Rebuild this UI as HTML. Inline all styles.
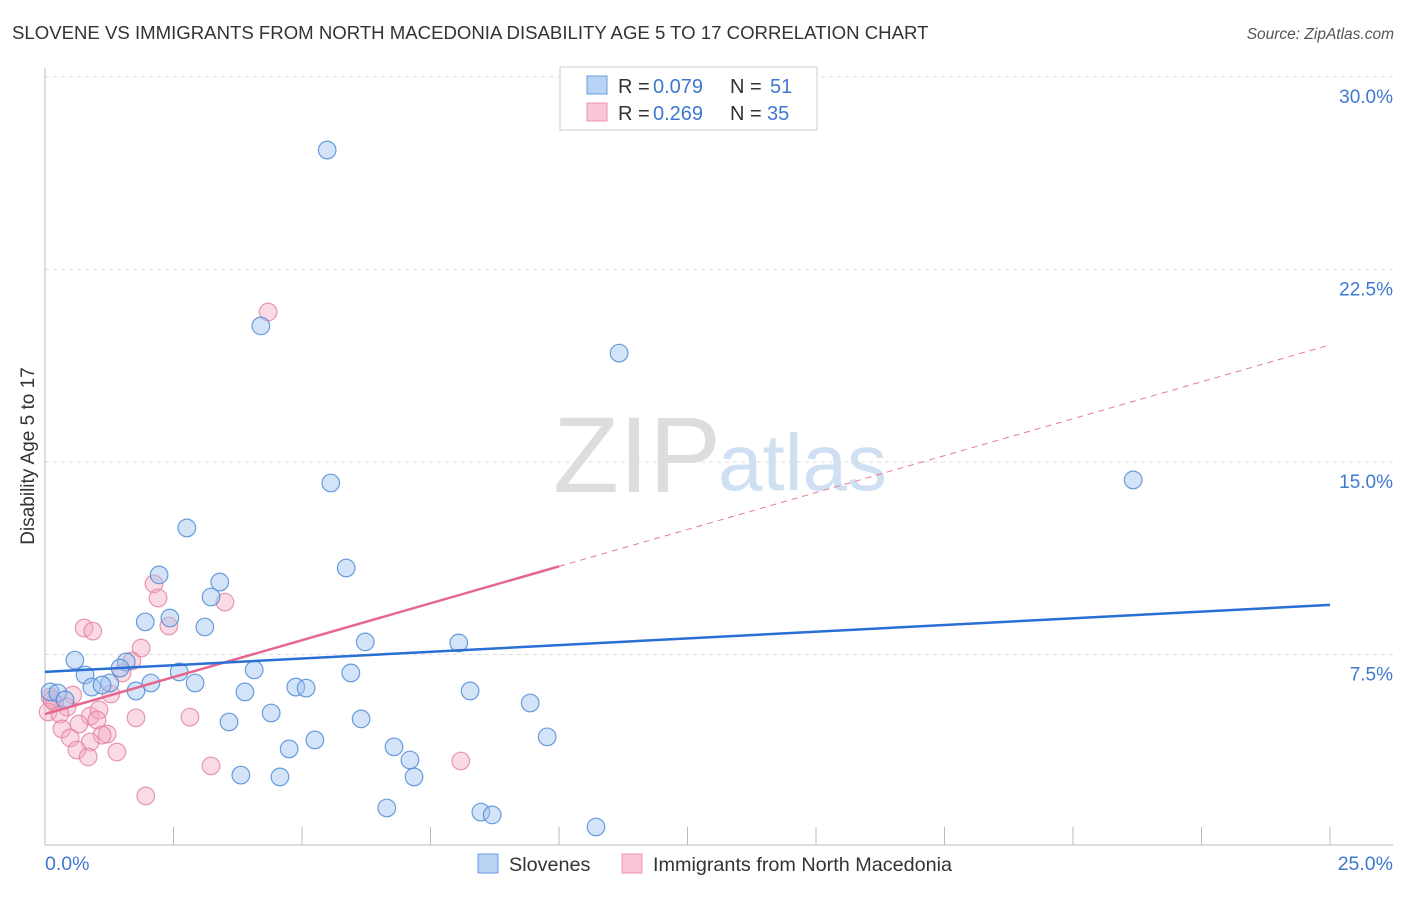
<!DOCTYPE html>
<html><head><meta charset="utf-8"><style>
body{margin:0;background:#fff;font-family:"Liberation Sans",sans-serif;}
svg text{font-family:"Liberation Sans",sans-serif;}
</style></head><body>
<svg id="chart" width="1406" height="892" xmlns="http://www.w3.org/2000/svg">
<text x="12" y="39" font-size="18.6" fill="#333">SLOVENE VS IMMIGRANTS FROM NORTH MACEDONIA DISABILITY AGE 5 TO 17 CORRELATION CHART</text>
<text x="1394" y="39" font-size="15.5" fill="#555" text-anchor="end" font-style="italic">Source: ZipAtlas.com</text>
<g>
<text x="553" y="492" font-size="108" fill="#ddd" font-family="Liberation Serif, serif">ZIP</text>
<text x="718" y="490" font-size="80" fill="#cfe0f3">atlas</text>
</g>
<g id="grid"></g>
<g id="axes"></g>
<text transform="translate(34,456) rotate(-90)" font-size="19" fill="#333" text-anchor="middle">Disability Age 5 to 17</text>
<g id="marks"></g>
<g>
<rect x="560" y="67" width="257" height="63" fill="#fff" stroke="#ccc"/>
<rect x="587" y="76" width="20" height="18" fill="#b8d3f3" stroke="#6b9ddf"/>
<rect x="587" y="103" width="20" height="18" fill="#f8c6d4" stroke="#e895ad"/>
<text x="618" y="93" font-size="20" fill="#333">R = </text>
<text x="653" y="93" font-size="20" fill="#3f78d0">0.079</text>
<text x="730" y="93" font-size="20" fill="#333">N = </text>
<text x="770" y="93" font-size="20" fill="#3f78d0">51</text>
<text x="618" y="120" font-size="20" fill="#333">R = </text>
<text x="653" y="120" font-size="20" fill="#3f78d0">0.269</text>
<text x="730" y="120" font-size="20" fill="#333">N = </text>
<text x="767" y="120" font-size="20" fill="#3f78d0">35</text>
</g>
<g>
<rect x="478" y="854" width="20" height="19" fill="#b8d3f3" stroke="#6b9ddf"/>
<text x="509" y="871" font-size="19.8" fill="#333">Slovenes</text>
<rect x="622" y="854" width="20" height="19" fill="#f8c6d4" stroke="#e895ad"/>
<text x="653" y="871" font-size="19.8" fill="#333">Immigrants from North Macedonia</text>
</g>
</svg>
<script>
const yTicks=[7.5,15,22.5,30];
const yTickLabels=["7.5%","15.0%","22.5%","30.0%"];
const xTicks=[0,2.5,5,7.5,10,12.5,15,17.5,20,22.5,25];
const xEndLabels=["0.0%","25.0%"];
const sloveneX=[5.49,4.20,11.17,21.17,5.56,2.76,5.86,2.22,3.40,3.23,2.43,1.95,3.11,6.23,8.05,0.58,1.58,1.46,0.78,4.07,2.61,5.95,2.06,1.26,2.92,0.91,1.11,4.88,5.08,3.89,1.77,8.27,0.10,0.25,0.39,9.44,4.40,6.15,3.58,9.77,5.25,4.75,6.79,7.10,3.81,4.57,7.18,6.65,8.48,8.70,10.72];
const sloveneY=[27.15,20.30,19.24,14.30,14.18,12.43,10.87,10.60,10.32,9.74,8.92,8.77,8.57,7.99,7.95,7.28,7.21,6.97,6.70,6.90,6.82,6.78,6.39,6.39,6.39,6.23,6.31,6.23,6.19,6.04,6.08,6.08,6.04,6.00,5.73,5.61,5.22,4.99,4.87,4.29,4.17,3.82,3.90,3.39,2.80,2.73,2.73,1.52,1.36,1.25,0.78];
const macX=[4.34,2.12,2.20,3.50,2.41,0.76,0.93,1.87,1.69,1.50,1.28,0.54,0.10,0.19,0.43,0.06,0.29,0.88,1.77,2.82,0.66,1.05,0.33,1.01,0.49,1.21,1.11,0.88,0.62,1.40,0.84,3.23,8.09,1.96,0.14];
const macY=[20.84,10.25,9.70,9.54,8.61,8.53,8.41,7.75,7.25,6.78,5.96,5.92,5.84,5.61,5.45,5.26,5.18,5.10,5.03,5.06,4.79,5.34,4.60,4.95,4.25,4.40,4.36,4.09,3.78,3.70,3.51,3.16,3.35,1.99,5.73];
const blueTrend=[6.82,9.43];
const pinkTrend=[5.18,19.56];
const pinkSolidEnd=10;

const NS="http://www.w3.org/2000/svg";
const X0=45,X1=1330,Y0=847,PXY=25.67;
const sx=v=>X0+(X1-X0)*v/25;
const sy=v=>Y0-v*PXY;
function mk(tag,attrs,parent){const e=document.createElementNS(NS,tag);for(const k in attrs)e.setAttribute(k,attrs[k]);parent.appendChild(e);return e;}
const grid=document.getElementById('grid'),axes=document.getElementById('axes'),marks=document.getElementById('marks');
yTicks.forEach((t,i)=>{
  const l=mk('line',{x1:X0,x2:1393,y1:sy(t),y2:sy(t),stroke:'#ddd','stroke-dasharray':'4,4'},grid);
  
  
  const tx=mk('text',{x:1393,y:sy(t)+26,'font-size':19,fill:'#3f78d0','text-anchor':'end'},axes);
  tx.textContent=yTickLabels[i];
  
  
});
mk('line',{x1:X0,x2:X0,y1:68,y2:845,stroke:'#bbb'},axes);
mk('line',{x1:X0,x2:1393,y1:845,y2:845,stroke:'#bbb'},axes);
xTicks.forEach(t=>{
  const l=mk('line',{x1:sx(t),x2:sx(t),y1:827,y2:845,stroke:'#bbb'},axes);
  
  
});
const a=mk('text',{x:45,y:870,'font-size':19.5,fill:'#3f78d0'},axes);a.textContent=xEndLabels[0];


const b=mk('text',{x:1393,y:870,'font-size':19.5,fill:'#3f78d0','text-anchor':'end'},axes);b.textContent=xEndLabels[1];



function dots(xs,ys,fill,stroke,name){
  xs.forEach((x,i)=>{
    const c=mk('circle',{cx:sx(x),cy:sy(ys[i]),r:8.8,fill:fill,stroke:stroke,'stroke-width':1.2},marks);
    
    
  });
}
dots(macX,macY,'rgba(244,170,192,0.42)','rgba(228,128,158,0.8)','macedonia-point');
dots(sloveneX,sloveneY,'rgba(160,196,240,0.45)','rgba(80,140,215,0.85)','slovene-point');
const pAt=x=>pinkTrend[0]+(pinkTrend[1]-pinkTrend[0])*x/25;
const pd=mk('line',{x1:sx(pinkSolidEnd),y1:sy(pAt(pinkSolidEnd)),x2:sx(25),y2:sy(pinkTrend[1]),stroke:'#e7799c','stroke-width':1,'stroke-dasharray':'6,5'},marks);


const ps=mk('line',{x1:sx(0),y1:sy(pinkTrend[0]),x2:sx(pinkSolidEnd),y2:sy(pAt(pinkSolidEnd)),stroke:'#e5678f','stroke-width':2.5},marks);


const bl=mk('line',{x1:sx(0),y1:sy(blueTrend[0]),x2:sx(25),y2:sy(blueTrend[1]),stroke:'#2a6fd4','stroke-width':2.5},marks);


</script>
</body></html>
